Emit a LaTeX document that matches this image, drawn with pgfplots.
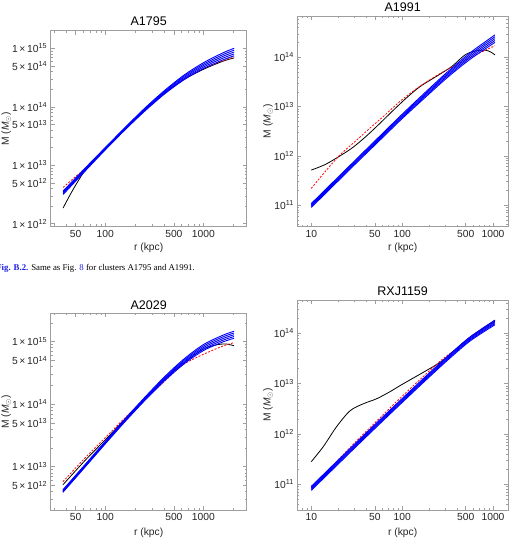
\documentclass[border=0pt]{standalone}
\usepackage{fontspec}
\setmainfont{Liberation Sans}
\newfontfamily\capfont{Liberation Serif}
\usepackage{pgfplots}
\usepackage{pgfplotstable}
\pgfplotsset{compat=1.18}
\definecolor{framegray}{gray}{0.62}
\definecolor{txt}{gray}{0.15}
\definecolor{linkblue}{RGB}{30,30,230}

% ---------- A1795 ----------
\pgfplotstableread{
r b1 b2 b3 b4 b5
37.2 3.163e12 3.273e12 3.388e12 3.507e12 3.629e12
63.1 8.13e12 8.37e12 8.61e12 8.86e12 9.12e12
100 1.833e13 1.876e13 1.919e13 1.963e13 2.009e13
158.5 4.010e13 4.104e13 4.198e13 4.295e13 4.395e13
251.2 8.357e13 8.601e13 8.85e13 9.107e13 9.372e13
398.1 1.634e14 1.691e14 1.750e14 1.811e14 1.874e14
631 2.879e14 3.013e14 3.155e14 3.303e14 3.458e14
1000 4.498e14 4.766e14 5.047e14 5.345e14 5.663e14
1585 6.354e14 6.805e14 7.295e14 7.820e14 8.375e14
2056 7.433e14 8.006e14 8.63e14 9.303e14 1.002e15
}\blueA
\pgfplotstableread{
r m
37.2 1.862e12
44.67 3.311e12
52.48 5.248e12
63.1 8.318e12
100 1.884e13
158.5 4.121e13
251.2 8.61e13
398.1 1.679e14
631 2.917e14
1000 4.365e14
1585 6.026e14
2056 6.839e14
}\blackA
\pgfplotstableread{
r m
37.2 4.178e12
50.12 6.457e12
63.1 9.02e12
100 1.928e13
158.5 4.217e13
251.2 8.81e13
398.1 1.718e14
631 2.951e14
1000 4.519e14
1585 6.166e14
2056 7.079e14
}\redA

% ---------- A1991 ----------
\pgfplotstableread{
r b1 b2 b3 b4 b5
10 8.916e10 9.333e10 9.772e10 1.023e11 1.071e11
17.78 2.542e11 2.661e11 2.786e11 2.917e11 3.054e11
31.62 7.247e11 7.586e11 7.943e11 8.316e11 8.706e11
56.23 2.031e12 2.132e12 2.239e12 2.351e12 2.469e12
100 5.700e12 5.998e12 6.310e12 6.638e12 6.985e12
177.8 1.511e13 1.602e13 1.698e13 1.800e13 1.909e13
316.2 3.925e13 4.186e13 4.467e13 4.766e13 5.083e13
562.3 9.21e13 9.935e13 1.072e14 1.157e14 1.248e14
1050 2.016e14 2.199e14 2.399e14 2.617e14 2.855e14
}\blueB
\pgfplotstableread{
r m
10 5.129e11
14.13 6.607e11
19.95 9.550e11
28.18 1.445e12
39.81 2.455e12
56.23 4.467e12
79.43 8.318e12
112.2 1.514e13
158.5 2.570e13
251.2 4.365e13
354.8 6.607e13
501.2 1.148e14
707.9 1.396e14
891.3 1.349e14
1050 1.122e14
}\blackB
\pgfplotstableread{
r m
10 2.183e11
14.39 4.898e11
20.70 1.038e12
31.62 2.089e12
44.67 3.715e12
63.10 6.457e12
94.6 1.274e13
158.5 2.630e13
283.8 5.117e13
446.7 7.943e13
660.7 1.151e14
1050 1.726e14
}\redB

% ---------- A2029 ----------
\pgfplotstableread{
r b1 b2 b3 b4 b5
37.0 3.891e12 3.982e12 4.074e12 4.168e12 4.265e12
63.1 1.011e13 1.035e13 1.059e13 1.083e13 1.109e13
100 2.318e13 2.372e13 2.427e13 2.483e13 2.541e13
158.5 5.223e13 5.356e13 5.495e13 5.638e13 5.781e13
251.2 1.133e14 1.167e14 1.202e14 1.238e14 1.275e14
398.1 2.332e14 2.420e14 2.512e14 2.607e14 2.705e14
631 4.367e14 4.571e14 4.786e14 5.011e14 5.246e14
1000 7.193e14 7.602e14 8.035e14 8.493e14 8.975e14
1585 9.912e14 1.055e15 1.122e15 1.194e15 1.270e15
2050 1.132e15 1.207e15 1.288e15 1.374e15 1.466e15
}\blueC
\pgfplotstableread{
r m
37.0 5.129e12
63.1 1.288e13
100 2.692e13
158.5 5.754e13
251.2 1.216e14
398.1 2.483e14
631 4.571e14
984 7.499e14
1346 8.851e14
1698 9.183e14
2050 8.60e14
}\blackC
\pgfplotstableread{
r m
37.0 5.754e12
63.1 1.413e13
100 2.917e13
158.5 6.026e13
251.2 1.202e14
398.1 2.291e14
571.5 3.936e14
779.8 5.224e14
1151 6.918e14
1585 8.511e14
2050 9.638e14
}\redC

% ---------- RXJ1159 ----------
\pgfplotstableread{
r b1 b2 b3 b4 b5
10 7.590e10 7.945e10 8.318e10 8.709e10 9.117e10
17.78 2.090e11 2.188e11 2.291e11 2.399e11 2.511e11
31.62 5.757e11 6.027e11 6.310e11 6.606e11 6.916e11
56.23 1.568e12 1.641e12 1.718e12 1.799e12 1.883e12
100 4.216e12 4.414e12 4.621e12 4.838e12 5.065e12
177.8 1.122e13 1.175e13 1.230e13 1.288e13 1.348e13
316.2 2.919e13 3.055e13 3.199e13 3.349e13 3.506e13
562.3 7.082e13 7.414e13 7.762e13 8.127e13 8.507e13
1050 1.476e14 1.557e14 1.641e14 1.730e14 1.825e14
}\blueD
\pgfplotstableread{
r m
10 2.818e11
13.55 5.598e11
19.01 1.400e12
26.67 2.884e12
37.33 3.981e12
52.36 5.012e12
73.45 6.918e12
94.6 9.12e12
144.5 1.413e13
220.3 2.188e13
283.8 2.951e13
398.1 5.012e13
562.3 8.511e13
1050 1.820e14
}\blackD
\pgfplotstableread{
r m
10 8.511e10
17.78 2.512e11
31.62 7.328e11
56.23 2.042e12
100 5.623e12
177.8 1.479e13
283.8 3.162e13
398.1 4.898e13
562.3 7.943e13
1050 1.660e14
}\redD

\pgfplotsset{every axis/.append style={
    scale only axis,
    axis line style={framegray, line width=0.6pt},
    every tick/.style={framegray, line width=0.5pt},
    major tick length=4pt, minor tick length=2.2pt,
    tick align=inside,
    tick label style={font=\fontsize{10.3}{12}\selectfont, text=txt},
    every axis title/.style={anchor=center, font=\fontsize{12.5}{14}\selectfont, text=black},
    every axis x label/.style={anchor=center, font=\fontsize{10.3}{12}\selectfont, text=txt},
    every axis y label/.style={anchor=center, rotate=90, font=\fontsize{10.3}{12}\selectfont, text=txt},
}}
\tikzset{
  bl/.style={blue, line width=0.9pt, smooth},
  bk/.style={black, line width=0.8pt, smooth},
  rd/.style={red, line width=0.8pt, dash pattern=on 2pt off 1.5pt, smooth},
}
\newcommand{\ylab}{M (\textit{M}\textsubscript{$\odot$})}
\newcommand{\tx}[2]{#1\,×\,10\textsuperscript{#2}}

\begin{document}
\begin{tikzpicture}
\useasboundingbox (0,0) rectangle (513pt,-547pt);

% A1795
\begin{axis}[xmode=log, ymode=log, at={(50.7pt,-30.7pt)}, anchor=north west,
  width=196pt, height=196pt,
  xmin=27.8, xmax=2760, ymin=8.9e11, ymax=2.0e15,
  xtick={50,100,500,1000}, xticklabels={50,100,500,1000},
  minor xtick={30,40,60,70,80,90,200,300,400,600,700,800,900,2000},
  ytick={1e12,5e12,1e13,5e13,1e14,5e14,1e15},
  yticklabels={\tx{1}{12},\tx{5}{12},\tx{1}{13},\tx{5}{13},\tx{1}{14},\tx{5}{14},\tx{1}{15}},
  minor ytick={2e12,3e12,4e12,6e12,7e12,8e12,9e12,2e13,3e13,4e13,6e13,7e13,8e13,9e13,2e14,3e14,4e14,6e14,7e14,8e14,9e14},
  title={A1795}, xlabel={r (kpc)}, ylabel={\ylab},
  title style={at={(axis description cs:0.5,1.046)}},
  xlabel style={at={(axis description cs:0.5,-0.110)}},
  ylabel style={at={(axis description cs:-0.226,0.5)}}]
\addplot[bk] table[x=r,y=m]{\blackA};
\addplot[rd] table[x=r,y=m]{\redA};
\addplot[bl] table[x=r,y=b1]{\blueA};
\addplot[bl] table[x=r,y=b2]{\blueA};
\addplot[bl] table[x=r,y=b3]{\blueA};
\addplot[bl] table[x=r,y=b4]{\blueA};
\addplot[bl] table[x=r,y=b5]{\blueA};
\end{axis}

% A1991
\begin{axis}[xmode=log, ymode=log, at={(297.3pt,-16pt)}, anchor=north west,
  width=210.7pt, height=210.7pt,
  xmin=7.02, xmax=1462, ymin=3.63e10, ymax=6.92e14,
  xtick={10,50,100,500,1000}, xticklabels={10,50,100,500,1000},
  minor xtick={8,9,20,30,40,60,70,80,90,200,300,400,600,700,800,900},
  ytick={1e11,1e12,1e13,1e14},
  yticklabels={10\textsuperscript{11},10\textsuperscript{12},10\textsuperscript{13},10\textsuperscript{14}},
  minor ytick={4e10,5e10,6e10,7e10,8e10,9e10,2e11,3e11,4e11,5e11,6e11,7e11,8e11,9e11,2e12,3e12,4e12,5e12,6e12,7e12,8e12,9e12,2e13,3e13,4e13,5e13,6e13,7e13,8e13,9e13,2e14,3e14,4e14,5e14,6e14},
  title={A1991}, xlabel={r (kpc)}, ylabel={\ylab},
  title style={at={(axis description cs:0.5,1.041)}},
  xlabel style={at={(axis description cs:0.5,-0.1025)}},
  ylabel style={at={(axis description cs:-0.139,0.5)}}]
\addplot[bk] table[x=r,y=m]{\blackB};
\addplot[rd] table[x=r,y=m]{\redB};
\addplot[bl] table[x=r,y=b1]{\blueB};
\addplot[bl] table[x=r,y=b2]{\blueB};
\addplot[bl] table[x=r,y=b3]{\blueB};
\addplot[bl] table[x=r,y=b4]{\blueB};
\addplot[bl] table[x=r,y=b5]{\blueB};
\end{axis}

% A2029
\begin{axis}[xmode=log, ymode=log, at={(50.7pt,-313.3pt)}, anchor=north west,
  width=196pt, height=196.7pt,
  xmin=27.8, xmax=2760, ymin=2.03e12, ymax=2.84e15,
  xtick={50,100,500,1000}, xticklabels={50,100,500,1000},
  minor xtick={30,40,60,70,80,90,200,300,400,600,700,800,900,2000},
  ytick={5e12,1e13,5e13,1e14,5e14,1e15},
  yticklabels={\tx{5}{12},\tx{1}{13},\tx{5}{13},\tx{1}{14},\tx{5}{14},\tx{1}{15}},
  minor ytick={3e12,4e12,6e12,7e12,8e12,9e12,2e13,3e13,4e13,6e13,7e13,8e13,9e13,2e14,3e14,4e14,6e14,7e14,8e14,9e14,2e15},
  title={A2029}, xlabel={r (kpc)}, ylabel={\ylab},
  title style={at={(axis description cs:0.5,1.042)}},
  xlabel style={at={(axis description cs:0.5,-0.118)}},
  ylabel style={at={(axis description cs:-0.226,0.5)}}]
\addplot[bk] table[x=r,y=m]{\blackC};
\addplot[rd] table[x=r,y=m]{\redC};
\addplot[bl] table[x=r,y=b1]{\blueC};
\addplot[bl] table[x=r,y=b2]{\blueC};
\addplot[bl] table[x=r,y=b3]{\blueC};
\addplot[bl] table[x=r,y=b4]{\blueC};
\addplot[bl] table[x=r,y=b5]{\blueC};
\end{axis}

% RXJ1159
\begin{axis}[xmode=log, ymode=log, at={(297.3pt,-300pt)}, anchor=north west,
  width=210.7pt, height=210pt,
  xmin=7.02, xmax=1462, ymin=3.09e10, ymax=4.59e14,
  xtick={10,50,100,500,1000}, xticklabels={10,50,100,500,1000},
  minor xtick={8,9,20,30,40,60,70,80,90,200,300,400,600,700,800,900},
  ytick={1e11,1e12,1e13,1e14},
  yticklabels={10\textsuperscript{11},10\textsuperscript{12},10\textsuperscript{13},10\textsuperscript{14}},
  minor ytick={4e10,5e10,6e10,7e10,8e10,9e10,2e11,3e11,4e11,5e11,6e11,7e11,8e11,9e11,2e12,3e12,4e12,5e12,6e12,7e12,8e12,9e12,2e13,3e13,4e13,5e13,6e13,7e13,8e13,9e13,2e14,3e14,4e14},
  title={RXJ1159}, xlabel={r (kpc)}, ylabel={\ylab},
  title style={at={(axis description cs:0.5,1.044)}},
  xlabel style={at={(axis description cs:0.5,-0.111)}},
  ylabel style={at={(axis description cs:-0.139,0.5)}}]
\addplot[bk] table[x=r,y=m]{\blackD};
\addplot[rd] table[x=r,y=m]{\redD};
\addplot[bl] table[x=r,y=b1]{\blueD};
\addplot[bl] table[x=r,y=b2]{\blueD};
\addplot[bl] table[x=r,y=b3]{\blueD};
\addplot[bl] table[x=r,y=b4]{\blueD};
\addplot[bl] table[x=r,y=b5]{\blueD};
\end{axis}

% caption fragment between the rows
\node[anchor=base east, font=\capfont\fontsize{8.8}{10}\selectfont, inner sep=0pt]
  at (195pt,-270pt)
  {\textcolor{linkblue}{\textbf{Fig. B.2.}} Same as Fig. \textcolor{linkblue}{8} for clusters A1795 and A1991.};
\end{tikzpicture}
\end{document}
